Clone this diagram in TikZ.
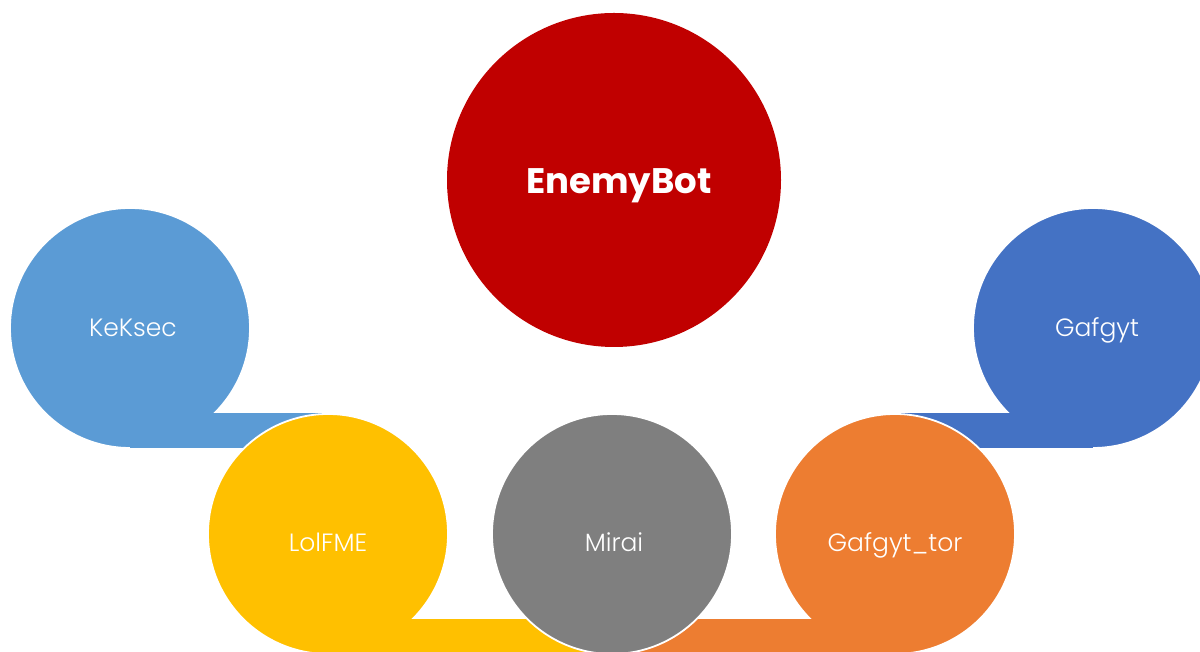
\documentclass[tikz,border=0pt]{standalone}
\usepackage{fontspec}
\setmainfont{Poppins}
% thinner face for the circle labels when it is available
\IfFontExistsTF{Poppins Light}
  {\newfontfamily\labelfont{Poppins Light}}
  {\newfontfamily\labelfont{Poppins}}

\definecolor{enemyred}{HTML}{C00000}
\definecolor{kekblue}{HTML}{5B9BD5}
\definecolor{gafblue}{HTML}{4472C4}
\definecolor{lolgold}{HTML}{FFC000}
\definecolor{mirgrey}{HTML}{7F7F7F}
\definecolor{tororange}{HTML}{ED7D31}

\begin{document}
\begin{tikzpicture}[x=1pt,y=1pt,
  bubble/.style={circle, minimum size=240pt, inner sep=0pt, outer sep=0pt,
    draw=white, line width=1.8pt},
  hub/.style={circle, minimum size=334pt, inner sep=0pt, outer sep=0pt,
    fill=enemyred},
  hubtext/.style={text=white, font=\bfseries\fontsize{35.5}{42}\selectfont,
    text height=0.7em, text depth=0pt, inner sep=0pt},
  lbl/.style={text=white, font=\labelfont\fontsize{25}{30}\selectfont,
    text height=0.7em, text depth=0pt, inner sep=0pt}]
\useasboundingbox (0,0) rectangle (1200,652);
\clip (0,0) rectangle (1200,652);

% centres of the circles
\coordinate (pKek) at (130,324);
\coordinate (pGaf) at (1093,324);
\coordinate (pLol) at (328,118);
\coordinate (pMir) at (612,118);
\coordinate (pTor) at (895,118);

% central family
\node[hub] (enemy) at (614,472) {};

% upper row with their tails
\node[bubble, fill=kekblue] (kek) at (pKek) {};
\fill[kekblue] (kek.south) rectangle ([yshift=35pt]pLol |- kek.south);
\node[bubble, fill=gafblue] (gaf) at (pGaf) {};
\fill[gafblue] (gaf.south) rectangle ([yshift=35pt]pTor |- gaf.south);

% lower row with their tails
\node[bubble, fill=lolgold] (lol) at (pLol) {};
\fill[lolgold] (lol.south) rectangle ([yshift=35pt]pMir |- lol.south);
\node[bubble, fill=tororange] (tor) at (pTor) {};
\fill[tororange] (tor.south) rectangle ([yshift=35pt]pMir |- tor.south);
\node[bubble, fill=mirgrey] (mir) at (pMir) {};

% labels
\node[hubtext] (enemyt) at ([xshift=5pt,yshift=-10pt]enemy.center) {EnemyBot};
\node[lbl] (kekt) at ([xshift=3pt,yshift=-5pt]kek.center) {KeKsec};
\node[lbl] (gaft) at ([xshift=4pt,yshift=-5pt]gaf.center) {Gafgyt};
\node[lbl] (lolt) at ([yshift=-14pt]lol.center) {LolFME};
\node[lbl] (mirt) at ([xshift=2pt,yshift=-14pt]mir.center) {Mirai};
\node[lbl] (tort) at ([yshift=-14pt]tor.center) {Gafgyt\_tor};
\end{tikzpicture}
\end{document}
